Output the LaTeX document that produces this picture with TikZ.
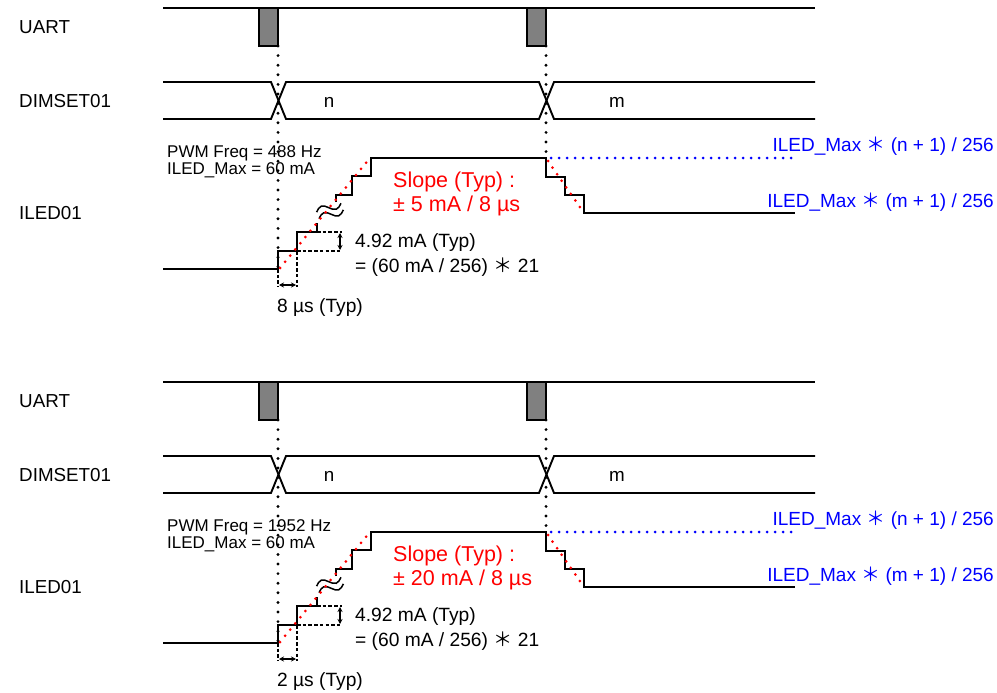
\documentclass[tikz,border=0pt]{standalone}
\usepackage{fontspec}
\setmainfont{Liberation Sans}
\newfontfamily\widefont{Noto Sans CJK JP}
\usetikzlibrary{arrows.meta}

\newcommand{\namefont}{\fontsize{18.8}{22}\selectfont}
\newcommand{\notefont}{\fontsize{17}{19}\selectfont}
\newcommand{\slopefont}{\fontsize{21.5}{25}\selectfont}
\newcommand{\typfont}{\fontsize{19.2}{22}\selectfont}
\newcommand{\levelfont}{\fontsize{19}{22}\selectfont}
\newcommand{\mult}{{\widefont ＊}}

\tikzset{
	sig/.style={line width=1.9pt},
	guide/.style={line width=3.2pt,line cap=round,dash pattern=on 0pt off 9.6pt},
	helper/.style={line width=1.9pt,dash pattern=on 3.5pt off 2.2pt},
	slopeline/.style={red,line width=3pt,line cap=round,dash pattern=on 0pt off 8pt},
	levelline/.style={blue,line width=3pt,line cap=round,dash pattern=on 0pt off 8pt},
	meas/.style={line width=1.5pt,{Stealth[length=5pt,width=5pt]}-{Stealth[length=5pt,width=5pt]}},
	lbl/.style={inner sep=0pt,anchor=west}
}

\begin{document}
\begin{tikzpicture}[x=1pt,y=-1pt]
	\useasboundingbox (0,0) rectangle (997,693);
	\foreach \oy/\freq/\slp/\dt in {0/488/5/8,374/1952/20/2}{
	\begin{scope}[shift={(0,\oy)}]
		% UART
		\draw[sig] (163,8) -- (815,8);
		\draw[sig,fill=gray] (259,8) rectangle (278,46);
		\draw[sig,fill=gray] (527,8) rectangle (546,46);
		% DIMSET01
		\draw[sig] (163,82) -- (271,82) -- (286,119) -- (539,119) -- (554,82) -- (815,82);
		\draw[sig] (163,119) -- (271,119) -- (286,82) -- (539,82) -- (554,119) -- (815,119);
		\draw[guide] (278,46) -- (278,269);
		\draw[guide] (546,46) -- (546,158);
		% ILED01
		\draw[helper] (278,269) -- (278,287);
		\draw[helper] (297,251) -- (297,287);
		\draw[helper] (297,251) -- (342,251);
		\draw[helper] (317,232) -- (342,232);
		\draw[meas] (340,233) -- (340,250);
		\draw[meas] (279,285) -- (296,285);
		\draw[sig] (163,269) -- (278,269) -- (278,251) -- (297,251) -- (297,232) -- (317,232) -- (317,223);
		\draw[sig] (336,202) -- (336,195) -- (352,195) -- (352,176) -- (371,176) -- (371,158)
			-- (546,158) -- (546,177) -- (565,177) -- (565,195) -- (584,195) -- (584,213) -- (795,213);
		\foreach \d in {-3.5,3.5}
			\draw[line width=1.5pt,shift={(330,211)},rotate=20]
				(-13,\d) sin (-6.5,\d-4) cos (0,\d) sin (6.5,\d+4) cos (13,\d);
		\draw[slopeline] (280,268) -- (370,158);
		\draw[slopeline] (548,161) -- (584,213);
		\draw[levelline] (551,158) -- (797,158);
		% labels
		\node[lbl,font=\namefont] (uart) at (19,27) {UART};
		\node[lbl,font=\namefont] (dimset) at (19,101) {DIMSET01};
		\node[lbl,font=\namefont] (iled) at (19,213) {ILED01};
		\node[font=\namefont] (valn) at (329,102) {n};
		\node[font=\namefont] (valm) at (617,102) {m};
		\node[lbl,font=\notefont] (pwm) at (167,153) {PWM Freq = \freq\ Hz};
		\node[lbl,font=\notefont] (imax) at (167,170) {ILED\_Max = 60 mA};
		\node[lbl,font=\slopefont,text=red] (slope) at (393,182) {Slope (Typ) :};
		\node[lbl,font=\slopefont,text=red] (rate) at (393,206) {± \slp\ mA / 8 µs};
		\node[lbl,font=\typfont] (step) at (355,243) {4.92 mA (Typ)};
		\node[lbl,font=\typfont] (calc) at (355,267) {= (60 mA / 256) \mult{} 21};
		\node[font=\typfont,inner sep=0pt] (width) at (320,308) {\dt\ µs (Typ)};
		\node[inner sep=0pt,anchor=east,font=\levelfont,text=blue] (lvln) at (994,146) {ILED\_Max \mult{} (n + 1) / 256};
		\node[inner sep=0pt,anchor=east,font=\levelfont,text=blue] (lvlm) at (994,202) {ILED\_Max \mult{} (m + 1) / 256};
	\end{scope}
	}
\end{tikzpicture}
\end{document}
